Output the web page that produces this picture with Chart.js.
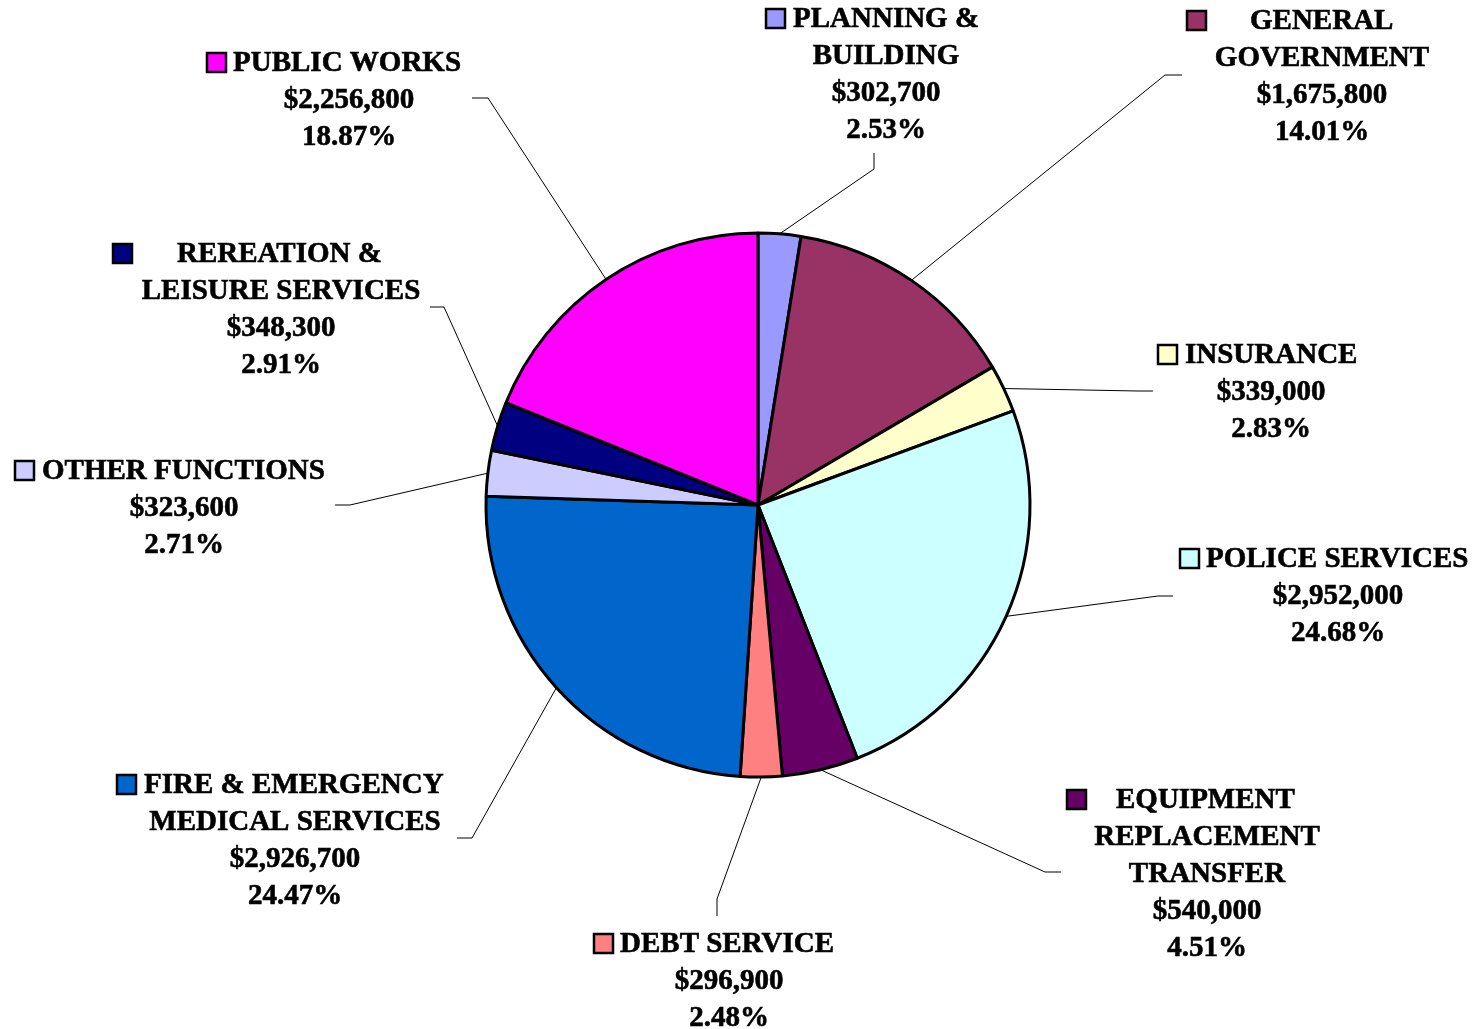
<!DOCTYPE html>
<html>
<head>
<meta charset="utf-8">
<style>
  html, body { margin: 0; padding: 0; background: #fff; }
</style>
</head>
<body>
<canvas id="myChart" width="1479" height="1029"></canvas>
<script src="https://cdn.jsdelivr.net/npm/chart.js@4.4.1/dist/chart.umd.min.js"></script>
<script>
const categories = [
    ['PLANNING &', 'BUILDING'],
    ['GENERAL', 'GOVERNMENT'],
    ['INSURANCE'],
    ['POLICE SERVICES'],
    ['EQUIPMENT', 'REPLACEMENT', 'TRANSFER'],
    ['DEBT SERVICE'],
    ['FIRE & EMERGENCY', 'MEDICAL SERVICES'],
    ['OTHER FUNCTIONS'],
    ['REREATION &', 'LEISURE SERVICES'],
    ['PUBLIC WORKS']
];
const amounts = [302700, 1675800, 339000, 2952000, 540000, 296900, 2926700, 323600, 348300, 2256800];
const sliceColors = ['#9999FF', '#993366', '#FFFFCC', '#CCFFFF', '#660066', '#FF8080', '#0066CC', '#CCCCFF', '#000080', '#FF00FF'];

// where each label sits: centre x of lines, first baseline, marker x, first line text x, leader elbow / end
const labelSpots = [
    { cx: 886,  y: 27,  mx: 766,  tx: 793,  elbow: [874, 169],  end: [874, 153] },
    { cx: 1322, y: 29,  mx: 1187, tx: 1250, elbow: [1165, 75],  end: [1182, 75] },
    { cx: 1271, y: 363, mx: 1158, tx: 1185, elbow: [1138, 391], end: [1153, 391] },
    { cx: 1338, y: 567, mx: 1180, tx: 1206, elbow: [1158, 596], end: [1173, 596] },
    { cx: 1207, y: 808, mx: 1067, tx: 1116, elbow: [1045, 872], end: [1061, 872] },
    { cx: 729,  y: 952, mx: 594,  tx: 620,  elbow: [717, 899],  end: [717, 916] },
    { cx: 295,  y: 793, mx: 117,  tx: 144,  elbow: [472, 838],  end: [457, 838] },
    { cx: 184,  y: 479, mx: 15,   tx: 42,   elbow: [350, 505],  end: [335, 505] },
    { cx: 281,  y: 262, mx: 113,  tx: 177,  elbow: [444, 307],  end: [430, 307] },
    { cx: 349,  y: 71,  mx: 207,  tx: 233,  elbow: [488, 98],   end: [472, 98] }
];

const total = amounts.reduce((a, b) => a + b, 0);
const lineGap = 37;

const calloutPlugin = {
    id: 'callouts',
    afterDatasetsDraw(chart) {
        const ctx = chart.ctx;
        const meta = chart.getDatasetMeta(0);
        ctx.save();
        ctx.font = 'bold 29px "Liberation Serif", "Times New Roman", serif';
        ctx.textBaseline = 'alphabetic';
        meta.data.forEach((arc, i) => {
            const p = arc.getProps(['x', 'y', 'startAngle', 'endAngle', 'outerRadius'], true);
            const mid = (p.startAngle + p.endAngle) / 2;
            const sx = p.x + Math.cos(mid) * p.outerRadius;
            const sy = p.y + Math.sin(mid) * p.outerRadius;
            const spot = labelSpots[i];

            // leader line
            ctx.strokeStyle = '#000';
            ctx.lineWidth = 1;
            ctx.beginPath();
            ctx.moveTo(sx, sy);
            ctx.lineTo(spot.elbow[0], spot.elbow[1]);
            ctx.lineTo(spot.end[0], spot.end[1]);
            ctx.stroke();

            // colour marker
            ctx.fillStyle = sliceColors[i];
            ctx.fillRect(spot.mx, spot.y - 18, 19, 19);
            ctx.lineWidth = 2.5;
            ctx.strokeRect(spot.mx, spot.y - 18, 19, 19);

            const lines = categories[i].slice(1).concat([
                '$' + amounts[i].toLocaleString('en-US'),
                (amounts[i] / total * 100).toFixed(2) + '%'
            ]);
            // a thin stroke thickens the bold serif a little, like the original
            ctx.fillStyle = '#000';
            ctx.lineWidth = 0.6;
            ctx.textAlign = 'left';
            ctx.fillText(categories[i][0], spot.tx, spot.y);
            ctx.strokeText(categories[i][0], spot.tx, spot.y);
            ctx.textAlign = 'center';
            lines.forEach((txt, k) => {
                ctx.fillText(txt, spot.cx, spot.y + lineGap * (k + 1));
                ctx.strokeText(txt, spot.cx, spot.y + lineGap * (k + 1));
            });
        });
        ctx.restore();
    }
};

new Chart(document.getElementById('myChart').getContext('2d'), {
    type: 'pie',
    data: {
        labels: categories,
        datasets: [{
            data: amounts,
            backgroundColor: sliceColors,
            borderColor: '#000',
            borderWidth: 3,
            radius: 272
        }]
    },
    options: {
        responsive: false,
        animation: false,
        layout: { padding: { left: 485, right: 448, top: 232, bottom: 251 } },
        plugins: {
            legend: { display: false },
            tooltip: { enabled: false }
        }
    },
    plugins: [calloutPlugin]
});
</script>
</body>
</html>
